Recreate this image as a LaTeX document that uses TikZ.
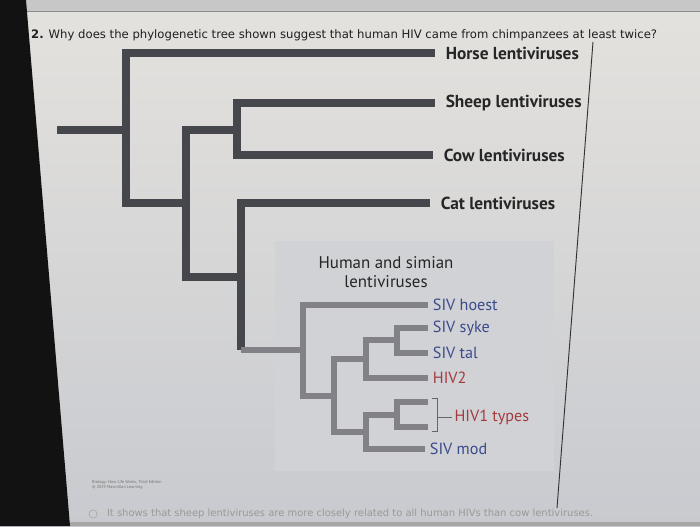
\documentclass[tikz,border=0pt]{standalone}
\usepackage{fontspec}
\setmainfont{PT Sans}
\newfontfamily\qfont{DejaVu Sans}
\usetikzlibrary{positioning}

\definecolor{treedark}{HTML}{46464D}
\definecolor{treegray}{HTML}{818187}
\definecolor{sivblue}{HTML}{3A4A8C}
\definecolor{hivred}{HTML}{A33A40}
\definecolor{boxgray}{HTML}{D1D2D5}
\definecolor{pagetop}{HTML}{E4E2DE}
\definecolor{pagebot}{HTML}{C8CACF}

\begin{document}
\begin{tikzpicture}[
  x=0.03cm, y=-0.03cm,
  branch/.style={draw=treedark, line width=7pt},
  subbranch/.style={draw=treegray, line width=5.3pt},
  leaf/.style={anchor=west, inner xsep=9pt, inner ysep=0pt,
    font=\fontsize{14.8}{16}\selectfont\bfseries, text=black!85},
  subleaf/.style={anchor=west, inner xsep=4pt, inner ysep=0pt,
    font=\fontsize{13.8}{15}\selectfont},
  siv/.style={subleaf, text=sivblue},
  hiv/.style={subleaf, text=hivred}
]
\useasboundingbox (0,0) rectangle (700,526);

% =========================
% Screen and page
% =========================
\shade[top color=pagetop, bottom color=pagebot] (0,0) rectangle (700,526);
\fill[black!22] (0,0) rectangle (700,11);
\draw[black!45, line width=0.6pt] (0,11) -- (700,11);
\fill[black!35] (0,522) rectangle (700,526);
\fill[black!93] (0,0) -- (26,0) -- (70,526) -- (0,526) -- cycle;
\draw[black!80, line width=0.8pt] (593,42) -- (557,508);

% question
\node[anchor=west, inner sep=0pt, text=black!88,
  font=\qfont\fontsize{9.95}{11}\selectfont] (question) at (31,35)
{\textbf{2.} Why does the phylogenetic tree shown suggest that human HIV came from chimpanzees at least twice?};

% =========================
% Lentivirus tree
% =========================
\fill[boxgray] (275,241) rectangle (554,471);

\node[leaf] (horse) at (435,53) {Horse lentiviruses};
\node[leaf] (sheep) at (435,103) {Sheep lentiviruses};
\node[leaf] (cow) at (433,155) {Cow lentiviruses};
\node[leaf] (cat) at (430,203) {Cat lentiviruses};

\node[align=center, inner sep=0pt, text=black!85,
  font=\fontsize{14.4}{16.5}\selectfont] (hsl) at (386,272)
{Human and simian\\lentiviruses};

\coordinate (root) at (57,130);
\coordinate (n1) at (126,130);
\coordinate (n2) at (186,203);
\coordinate (n3) at (237,130);
\coordinate (n4) at (241,277);
\coordinate (n5) at (303,350);

\draw[branch] (root) -- (n1);
\draw[branch] (n1) |- (horse.west);
\draw[branch] (n1) |- (n2);
\draw[branch] (n2) |- (n3);
\draw[branch] (n3) |- (sheep.west);
\draw[branch] (n3) |- (cow.west);
\draw[branch] (n2) |- (n4);
\draw[branch] (n4) |- (cat.west);
\draw[branch] (n4) -- (n4 |- n5);
\draw[subbranch] (n4 |- n5) -- (n5);

% =========================
% Human and simian subtree
% =========================
\node[siv] (hoest) at (428,305) {SIV hoest};
\node[siv] (syke) at (428,328) {SIV syke};
\node[siv] (tal) at (428,353) {SIV tal};
\node[hiv] (hivtwo) at (428,378) {HIV2};
\node[hiv, inner xsep=2pt] (hivone) at (452,417) {HIV1 types};
\node[siv] (mod) at (425,449) {SIV mod};

\coordinate (n6) at (334,396);
\coordinate (n7) at (366,359);
\coordinate (n8) at (397,340);
\coordinate (n9) at (366,432);
\coordinate (n10) at (397,415);
\coordinate (hivA) at (428,402);
\coordinate (hivB) at (428,427);

\draw[subbranch] (n5) |- (hoest.west);
\draw[subbranch] (n5) |- (n6);
\draw[subbranch] (n6) |- (n7);
\draw[subbranch] (n7) |- (n8);
\draw[subbranch] (n8) |- (syke.west);
\draw[subbranch] (n8) |- (tal.west);
\draw[subbranch] (n7) |- (hivtwo.west);
\draw[subbranch] (n6) |- (n9);
\draw[subbranch] (n9) |- (n10);
\draw[subbranch] (n10) |- (hivA);
\draw[subbranch] (n10) |- (hivB);
\draw[subbranch] (n9) |- (mod.west);

% bracket for the HIV1 types
\coordinate (brmid) at (437,417);
\draw[black!60, line width=0.7pt] (432,398) -- (437,398) -- (437,431) -- (432,431);
\draw[black!60, line width=0.7pt] (brmid) -- (hivone.west);

% =========================
% Credit and answer
% =========================
\node[anchor=north west, inner sep=0pt, align=left, text=black!55,
  font=\fontsize{3.6}{4.4}\selectfont] (credit) at (92,480)
{Biology: How Life Works, Third Edition\\\textcopyright\ 2019 Macmillan Learning};

\node[circle, draw=black!35, line width=0.5pt, minimum size=7pt, inner sep=0pt] (radio) at (93,514) {};
\node[anchor=west, inner sep=0pt, text=black!40,
  font=\qfont\fontsize{8.5}{10}\selectfont, right=8pt of radio] (answer)
{It shows that sheep lentiviruses are more closely related to all human HIVs than cow lentiviruses.};

\end{tikzpicture}
\end{document}
